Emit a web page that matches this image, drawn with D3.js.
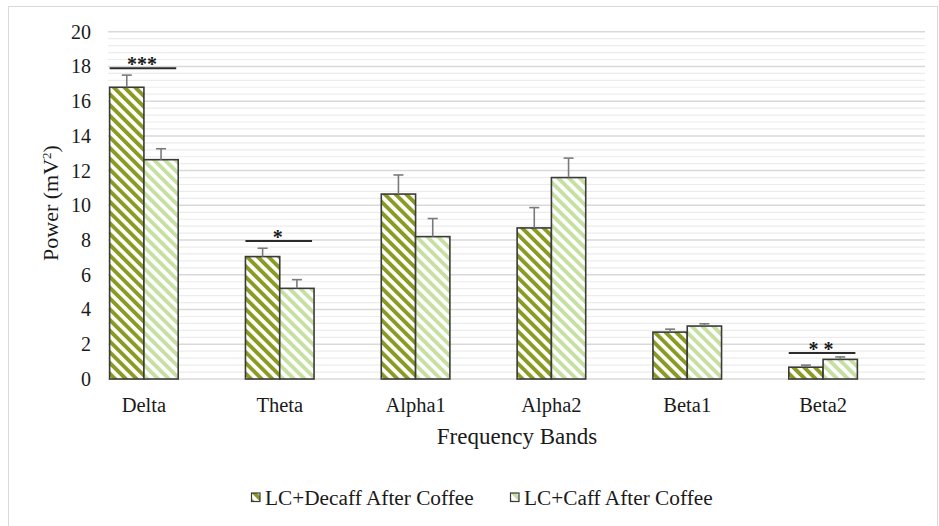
<!DOCTYPE html>
<html>
<head>
<meta charset="utf-8">
<script src="https://cdn.jsdelivr.net/npm/d3@7/dist/d3.min.js"></script>
<style>
  html, body { margin: 0; padding: 0; background: #fff; }
  svg { display: block; font-family: "Liberation Serif", "Times New Roman", serif; }
</style>
</head>
<body>
<svg id="chart" width="939" height="526"></svg>
<script>
// EEG band power after coffee, two conditions
const categories = ["Delta", "Theta", "Alpha1", "Alpha2", "Beta1", "Beta2"];
const seriesNames = ["LC+Decaff After Coffee", "LC+Caff After Coffee"];
const decaffValues = [16.8, 7.05, 10.65, 8.7, 2.7, 0.68];
const caffValues = [12.63, 5.22, 8.2, 11.6, 3.05, 1.13];
const decaffErrors = [0.7, 0.48, 1.1, 1.17, 0.17, 0.12];
const caffErrors = [0.63, 0.5, 1.04, 1.12, 0.13, 0.14];
const yTicks = [0, 2, 4, 6, 8, 10, 12, 14, 16, 18, 20];
// significance brackets: band, marker, height in mV²
const sigBands = ["Delta", "Theta", "Beta2"];
const sigLabels = ["***", "*", "* *"];
const sigLevels = [17.9, 7.94, 1.5];

const svg = d3.select("#chart");

// outer frame
svg.append("rect").attr("x", 8.5).attr("y", 6.5).attr("width", 929).attr("height", 540)
  .attr("fill", "#fff").attr("stroke", "#d9d9d9").attr("stroke-width", 1);

const plotLeft = 108, plotRight = 925;
const y = d3.scaleLinear().domain([0, 20]).range([379, 31.7]);
const x = d3.scaleBand().domain(categories).range([76, 891])
  .paddingInner(0.495).paddingOuter(0.2475);
const xs = d3.scaleBand().domain(["decaff", "caff"]).range([0, x.bandwidth()]);

// hatch patterns
const defs = svg.append("defs");
function hatch(id, color, period, stripe) {
  const p = defs.append("pattern").attr("id", id)
    .attr("patternUnits", "userSpaceOnUse")
    .attr("width", period).attr("height", period)
    .attr("patternTransform", "rotate(-45)");
  p.append("rect").attr("width", period).attr("height", period).attr("fill", "#fff");
  p.append("rect").attr("x", 0).attr("y", 0).attr("width", stripe).attr("height", period).attr("fill", color);
}
hatch("hatchDecaff", "#8a9a22", 7.6, 3.9);
hatch("hatchCaff", "#c6e0a2", 7.6, 3.9);

// gridlines: minor every 0.4, major every 2
const minor = d3.range(0, 20.001, 0.4).filter(v => Math.abs(v / 2 - Math.round(v / 2)) > 1e-6);
svg.append("g").selectAll("line").data(minor).join("line")
  .attr("x1", plotLeft).attr("x2", plotRight)
  .attr("y1", d => y(d)).attr("y2", d => y(d))
  .attr("stroke", "#ececec").attr("stroke-width", 1.2);
svg.append("g").selectAll("line").data(yTicks).join("line")
  .attr("x1", plotLeft).attr("x2", plotRight)
  .attr("y1", d => y(d)).attr("y2", d => y(d))
  .attr("stroke", "#d9d9d9").attr("stroke-width", 1.5);

// y axis labels
const yAxis = d3.axisLeft(y).tickValues(yTicks).tickSize(0).tickPadding(0);
const gy = svg.append("g").attr("transform", "translate(91,0)").call(yAxis);
gy.select(".domain").remove();
gy.selectAll("text").attr("font-family", "Liberation Serif").attr("font-size", 20)
  .attr("fill", "#1a1a1a");

// x axis labels
const xAxis = d3.axisBottom(x).tickSize(0).tickPadding(0);
const gx = svg.append("g").attr("transform", "translate(0,397)").call(xAxis);
gx.select(".domain").remove();
gx.selectAll("text").attr("font-family", "Liberation Serif").attr("font-size", 20.5)
  .attr("fill", "#1a1a1a");

// bars
const rows = categories.map((c, i) => ({
  cat: c,
  items: [
    { key: "decaff", value: decaffValues[i], err: decaffErrors[i], fill: "url(#hatchDecaff)" },
    { key: "caff", value: caffValues[i], err: caffErrors[i], fill: "url(#hatchCaff)" }
  ]
}));
const groups = svg.append("g").selectAll("g").data(rows).join("g")
  .attr("transform", d => `translate(${x(d.cat)},0)`);
groups.selectAll("rect").data(d => d.items).join("rect")
  .attr("x", d => xs(d.key))
  .attr("y", d => y(d.value))
  .attr("width", xs.bandwidth())
  .attr("height", d => y(0) - y(d.value))
  .attr("fill", d => d.fill)
  .attr("stroke", "#3a3a3a").attr("stroke-width", 1.6);

// error bars
const eb = groups.selectAll("g.err").data(d => d.items).join("g").attr("class", "err")
  .attr("stroke", "#7a7a7a").attr("stroke-width", 1.6);
eb.append("line")
  .attr("x1", d => xs(d.key) + xs.bandwidth() / 2).attr("x2", d => xs(d.key) + xs.bandwidth() / 2)
  .attr("y1", d => y(d.value)).attr("y2", d => y(d.value + d.err));
eb.append("line")
  .attr("x1", d => xs(d.key) + xs.bandwidth() / 2 - 5).attr("x2", d => xs(d.key) + xs.bandwidth() / 2 + 5)
  .attr("y1", d => y(d.value + d.err)).attr("y2", d => y(d.value + d.err));

// significance markers
const sig = sigBands.map((b, i) => ({ band: b, label: sigLabels[i], level: sigLevels[i] }));
const sg = svg.append("g").selectAll("g").data(sig).join("g");
sg.append("line")
  .attr("x1", d => x(d.band)).attr("x2", d => x(d.band) + x.bandwidth() - 2)
  .attr("y1", d => y(d.level)).attr("y2", d => y(d.level))
  .attr("stroke", "#2b2b2b").attr("stroke-width", 2);
sg.append("text")
  .attr("x", d => x(d.band) + x.bandwidth() / 2 - 2)
  .attr("y", d => y(d.level) + 3)
  .attr("text-anchor", "middle")
  .attr("font-size", 20).attr("font-weight", "bold").attr("fill", "#1a1a1a")
  .text(d => d.label);

// axis titles
svg.append("text")
  .attr("transform", "translate(58,203) rotate(-90)")
  .attr("text-anchor", "middle").attr("font-size", 22).attr("fill", "#1a1a1a")
  .html('Power (mV<tspan baseline-shift="super" font-size="13">2</tspan>)');
svg.append("text")
  .attr("x", 517).attr("y", 444)
  .attr("text-anchor", "middle").attr("font-size", 23).attr("fill", "#1a1a1a")
  .text("Frequency Bands");

// legend
const legendX = [251.5, 510.5];
const legendFills = ["url(#hatchDecaff)", "url(#hatchCaff)"];
const lg = svg.append("g").selectAll("g").data(seriesNames).join("g")
  .attr("transform", (d, i) => `translate(${legendX[i]},493)`);
lg.append("rect").attr("width", 8.5).attr("height", 8.5)
  .attr("fill", (d, i) => legendFills[i])
  .attr("stroke", "#3a3a3a").attr("stroke-width", 1.2);
lg.append("text").attr("x", 13.5).attr("y", 11.5)
  .attr("font-size", 21.3).attr("fill", "#1a1a1a")
  .text(d => d);
</script>
</body>
</html>
